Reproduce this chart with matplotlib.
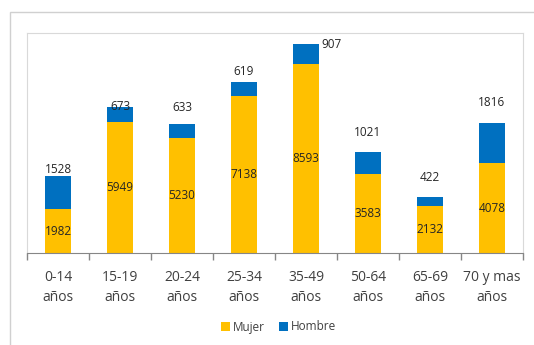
import matplotlib.pyplot as plt
from matplotlib.patches import Rectangle
import numpy as np

# age groups and counts
grupos = ['0-14\naños', '15-19\naños', '20-24\naños', '25-34\naños',
          '35-49\naños', '50-64\naños', '65-69\naños', '70 y mas\naños']
mujer = [1982, 5949, 5230, 7138, 8593, 3583, 2132, 4078]
hombre = [1528, 673, 633, 619, 907, 1021, 422, 1816]

# label offsets for the Hombre values (points), as placed in the original
off_hombre = [(0, 0), (0, -4), (0, 7), (0, 3), (18, -5), (0, 9), (0, 9), (0, 10)]

amarillo = '#FFC000'
azul = '#0070C0'

plt.rcParams['font.family'] = ['Open Sans', 'DejaVu Sans']

fig = plt.figure(figsize=[5.34, 3.45], dpi=100)
fig.patch.set_facecolor('white')

# outer chart border
fig.patches.append(Rectangle((10 / 534, -0.1), 1.2, 1 - 12 / 345 + 0.1,
                             transform=fig.transFigure, fill=False,
                             edgecolor='#d0d0d0', linewidth=1))

ax = fig.add_axes([27 / 534, 92 / 345, 496 / 534, 220 / 345])

x = np.arange(len(grupos))
ax.bar(x, mujer, width=0.42, color=amarillo, label='Mujer')
ax.bar(x, hombre, width=0.42, bottom=mujer, color=azul, label='Hombre')

for i in range(len(grupos)):
    ax.text(x[i], mujer[i] / 2, str(mujer[i]), ha='center', va='center',
            fontsize=8.5, color='#262626')
    top = mujer[i] + hombre[i]
    ax.annotate(str(hombre[i]), (x[i], top), xytext=off_hombre[i],
                textcoords='offset points', ha='center', va='bottom',
                fontsize=8.5, color='#262626')

ax.set_xlim(-0.5, len(grupos) - 0.5)
ax.set_ylim(0, 10000)
ax.set_yticks([])

ax.set_xticks(x)
ax.set_xticklabels(grupos, fontsize=10, color='#404040', linespacing=1.45)
ax.tick_params(axis='x', length=0, pad=12)
# tick marks between categories
ax.set_xticks(np.arange(len(grupos) + 1) - 0.5, minor=True)
ax.tick_params(axis='x', which='minor', length=5, color='#868686', width=1)

for s in ['top', 'left', 'right']:
    ax.spines[s].set_color('#d9d9d9')
ax.spines['bottom'].set_color('#868686')

fig.legend(loc='center', bbox_to_anchor=(279 / 534, 1 - 327 / 345), ncol=2,
           frameon=False, fontsize=8.5, handlelength=0.7, handleheight=0.7,
           handletextpad=0.3, columnspacing=1.2, labelcolor='#404040')

fig.savefig('out.png', dpi=100)
